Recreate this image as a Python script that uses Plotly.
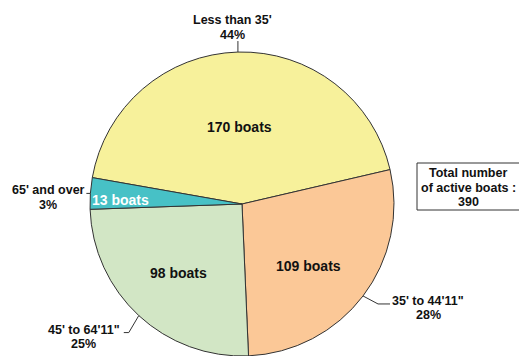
import math
import plotly.graph_objects as go

# Active boats by length class
categories = ["Less than 35'", "35' to 44'11\"", "45' to 64'11\"", "65' and over"]
boats = [170, 109, 98, 13]
percent_labels = ["44%", "28%", "25%", "3%"]
total_boats = 390
total_lines = ["Total number", "of active boats :", str(total_boats)]

colors = ["#F7F19B", "#FBC897", "#D2E6C5", "#47C1C6"]
inside_text_colors = ["#111111", "#111111", "#111111", "#FFFFFF"]

W, H = 519, 356
CX, CY, R = 242, 204, 152        # pie centre / radius in pixels (y measured downward)
ROTATION = -80                   # first slice starts 80 deg anticlockwise of 12 o'clock
FONT = "Liberation Sans, Arial, sans-serif"
INK = "#111111"
EDGE = "#333333"
LINE_GAP = 14.5


def px(x, y):
    """Pixel position -> paper coordinates."""
    return x / W, (H - y) / H


def polar(angle_deg, r):
    a = math.radians(angle_deg)
    return CX + r * math.cos(a), CY - r * math.sin(a)


def text_at(x, y, text, size=12.5, color=INK):
    ax, ay = px(x, y)
    return dict(x=ax, y=ay, xref="paper", yref="paper", text=f"<b>{text}</b>",
                showarrow=False, xanchor="center", yanchor="middle",
                font=dict(family=FONT, size=size, color=color))


# mid angle of each slice (math convention, degrees)
start = 90 - ROTATION
mids = []
cum = 0
for v in boats:
    mids.append(start - (cum + v / 2) / total_boats * 360)
    cum += v

fig = go.Figure(go.Pie(
    labels=categories,
    values=boats,
    sort=False,
    direction="clockwise",
    rotation=ROTATION,
    marker=dict(colors=colors, line=dict(color=EDGE, width=1)),
    textinfo="none",
    hoverinfo="label+value+percent",
    showlegend=False,
    domain=dict(x=[(CX - R) / W, (CX + R) / W],
                y=[max(0.0, (H - CY - R) / H), (H - CY + R) / H]),
))

annotations = []
shapes = []

# value labels inside the slices: (radius fraction, angle nudge)
inside_place = [(0.51, 0), (0.60, -6), (0.62, 0), (0.80, 2)]
for v, m, (fr, da), tc in zip(boats, mids, inside_place, inside_text_colors):
    x, y = polar(m + da, R * fr)
    annotations.append(text_at(x, y, f"{v} boats", size=14, color=tc))

# outside category labels with elbow leader lines
# leader: (first segment dx, dy, horizontal run); label: centre offset of first line from leader end
leaders = [(0, -11, 0), (15, 8, 12), (-10, 17, -5), (0, 0, -4)]
label_offsets = [(-5, -21), (38, -3), (-40, -3), (-38, -3)]
for cat, pct, m, (dx1, dy1, hor), (ox, oy) in zip(categories, percent_labels, mids, leaders, label_offsets):
    x0, y0 = polar(m, R)
    x1, y1 = x0 + dx1, y0 + dy1
    x2, y2 = x1 + hor, y1
    pts = [(x0, y0), (x1, y1), (x2, y2)]
    path = "M " + " L ".join(f"{px(a, b)[0]},{px(a, b)[1]}" for a, b in pts)
    shapes.append(dict(type="path", path=path, xref="paper", yref="paper",
                       line=dict(color=EDGE, width=1)))
    annotations.append(text_at(x2 + ox, y2 + oy, cat))
    annotations.append(text_at(x2 + ox, y2 + oy + LINE_GAP, pct))

# total box on the right
bx0, by0 = px(417, 163)
bx1, by1 = px(530, 210)
shapes.append(dict(type="rect", xref="paper", yref="paper", x0=bx0, y0=by1, x1=bx1, y1=by0,
                   line=dict(color=EDGE, width=1), fillcolor="rgba(0,0,0,0)"))
for i, line in enumerate(total_lines):
    annotations.append(text_at(468, 173 + i * LINE_GAP, line))

fig.update_layout(
    width=W, height=H,
    margin=dict(l=0, r=0, t=0, b=0),
    paper_bgcolor="white", plot_bgcolor="white",
    annotations=annotations, shapes=shapes,
)

fig.write_html("out.html")
